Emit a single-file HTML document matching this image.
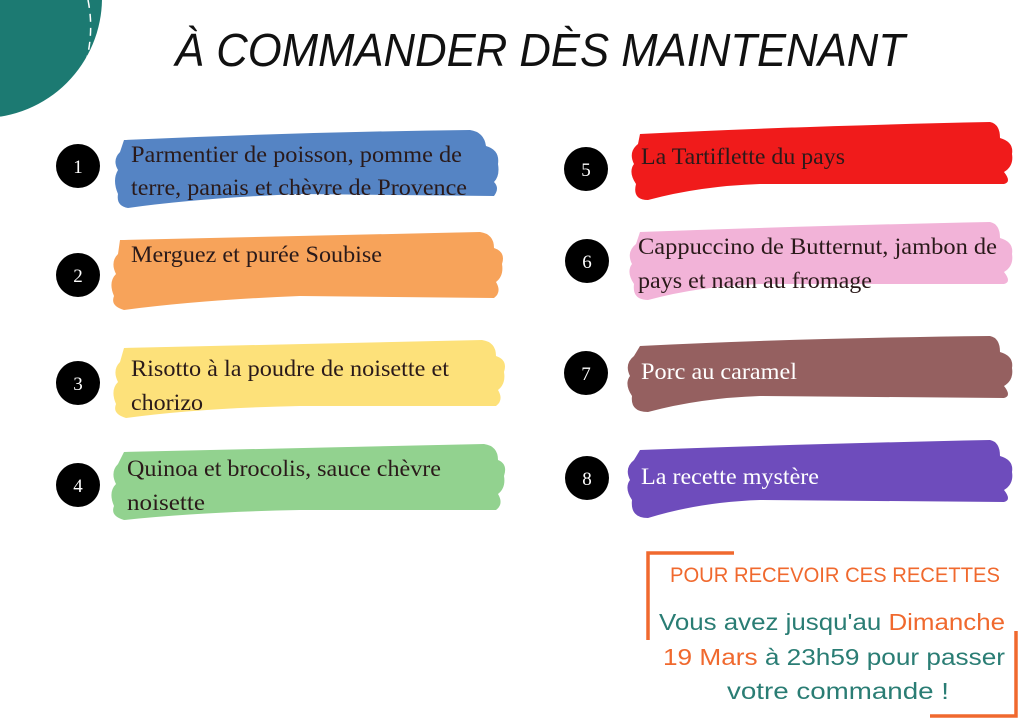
<!DOCTYPE html>
<html><head><meta charset="utf-8"><style>
html,body{margin:0;padding:0;background:#fff;}
svg{display:block}
.t{font-family:"Liberation Serif",serif;font-size:23px;fill:#2a1a1a}
.w{fill:#fff}
.n{font-family:"Liberation Serif",serif;font-size:19px;fill:#fff;text-anchor:middle}
.s{font-family:"Liberation Sans",sans-serif;}
</style></head><body>
<svg width="1024" height="724" viewBox="0 0 1024 724" xmlns="http://www.w3.org/2000/svg">
<rect width="1024" height="724" fill="#fff"/>
<circle cx="-18" cy="-2" r="120" fill="#1c7a72"/>
<path d="M88 0 Q 96 40 80 80" stroke="#fff" stroke-width="1.5" fill="none" stroke-dasharray="8 6"/>
<text x="540" y="66" text-anchor="middle" class="s" font-style="italic" font-size="46" textLength="730" lengthAdjust="spacingAndGlyphs" fill="#111">À COMMANDER DÈS MAINTENANT</text>

<g fill="#5584c4"><path d="M124 140 Q300 132 470 130 Q484 132 486 146 Q500 150 498 164 Q500 176 494 182 Q500 188 494 196 L300 194 Q200 198 128 208 Q116 206 118 194 Q112 180 118 170 Q112 160 120 152 Z"/></g>
<g fill="#f7a35a"><path d="M120 240 Q300 236 480 232 Q494 234 494 248 Q506 252 502 264 Q504 276 496 282 Q502 292 494 298 L300 296 Q200 300 124 310 Q110 306 114 296 Q108 282 116 274 Q110 262 118 254 Z"/></g>
<g fill="#fde17a"><path d="M124 348 Q300 344 482 340 Q496 342 496 356 Q508 360 504 372 Q506 384 498 390 Q504 400 496 406 L300 406 Q200 408 126 418 Q112 414 116 404 Q110 390 118 382 Q112 370 120 362 Z"/></g>
<g fill="#92d28f"><path d="M124 452 Q300 448 484 444 Q498 446 498 460 Q508 464 504 476 Q506 488 498 494 Q504 504 496 510 L300 510 Q200 512 124 520 Q110 516 114 506 Q108 492 116 484 Q110 472 118 464 Z"/></g>
<g fill="#f01b1b"><path d="M640 134 Q800 126 990 122 Q1000 124 1000 138 Q1014 142 1012 154 Q1014 166 1004 172 Q1012 182 1004 184 L760 184 Q700 186 648 200 Q632 200 636 184 Q628 172 634 164 Q628 152 638 144 Z"/></g>
<g fill="#f2b3d8"><path d="M640 232 Q800 226 990 222 Q1000 224 1000 238 Q1014 242 1012 254 Q1014 266 1004 272 Q1012 282 1004 284 L760 284 Q700 286 648 300 Q632 300 634 284 Q626 272 632 264 Q626 252 636 244 Z"/></g>
<g fill="#956060"><path d="M640 346 Q800 338 990 336 Q1000 338 1000 352 Q1014 356 1012 368 Q1014 380 1004 386 Q1012 396 1004 398 L760 396 Q700 398 648 412 Q630 412 632 396 Q624 384 630 376 Q624 364 634 356 Z"/></g>
<g fill="#6e4cbc"><path d="M640 450 Q800 444 990 440 Q1000 442 1000 456 Q1014 460 1012 472 Q1014 484 1004 490 Q1012 500 1004 502 L760 500 Q700 502 648 518 Q630 518 632 500 Q624 488 630 480 Q624 468 634 460 Z"/></g>

<g fill="#000">
<circle cx="78" cy="166" r="22"/><circle cx="78" cy="275" r="22"/><circle cx="78" cy="383" r="22"/><circle cx="78" cy="485" r="22"/>
<circle cx="586" cy="169" r="22"/><circle cx="587" cy="261" r="22"/><circle cx="586" cy="373" r="22"/><circle cx="587" cy="478" r="22"/>
</g>
<text class="n" x="78" y="173">1</text><text class="n" x="78" y="282">2</text><text class="n" x="78" y="390">3</text><text class="n" x="78" y="492">4</text>
<text class="n" x="586" y="176">5</text><text class="n" x="587" y="268">6</text><text class="n" x="586" y="380">7</text><text class="n" x="587" y="485">8</text>

<text class="t" x="131" y="162" textLength="331" lengthAdjust="spacingAndGlyphs">Parmentier de poisson, pomme de</text>
<text class="t" x="131" y="195" textLength="336" lengthAdjust="spacingAndGlyphs">terre, panais et chèvre de Provence</text>
<text class="t" x="131" y="262" textLength="251" lengthAdjust="spacingAndGlyphs">Merguez et purée Soubise</text>
<text class="t" x="131" y="376" textLength="318" lengthAdjust="spacingAndGlyphs">Risotto à la poudre de noisette et</text>
<text class="t" x="131" y="410" textLength="72" lengthAdjust="spacingAndGlyphs">chorizo</text>
<text class="t" x="127" y="476" textLength="314" lengthAdjust="spacingAndGlyphs">Quinoa et brocolis, sauce chèvre</text>
<text class="t" x="127" y="510" textLength="78" lengthAdjust="spacingAndGlyphs">noisette</text>
<text class="t" x="641" y="164" textLength="204" lengthAdjust="spacingAndGlyphs">La Tartiflette du pays</text>
<text class="t" x="638" y="254" textLength="359" lengthAdjust="spacingAndGlyphs">Cappuccino de Butternut, jambon de</text>
<text class="t" x="638" y="288" textLength="234" lengthAdjust="spacingAndGlyphs">pays et naan au fromage</text>
<text class="t w" x="641" y="379" textLength="156" lengthAdjust="spacingAndGlyphs">Porc au caramel</text>
<text class="t w" x="641" y="484" textLength="178" lengthAdjust="spacingAndGlyphs">La recette mystère</text>

<path d="M648 640 V553 H734" stroke="#f0692e" stroke-width="3.5" fill="none"/>
<path d="M1016 631 V716 H930" stroke="#f0692e" stroke-width="3.5" fill="none"/>
<text class="s" x="835" y="582" text-anchor="middle" font-size="21" fill="#f0692e" textLength="330" lengthAdjust="spacingAndGlyphs">POUR RECEVOIR CES RECETTES</text>
<text class="s" x="832" y="630" text-anchor="middle" font-size="23" fill="#2a7d74" textLength="346" lengthAdjust="spacingAndGlyphs">Vous avez jusqu'au <tspan fill="#f0692e">Dimanche</tspan></text>
<text class="s" x="834" y="665" text-anchor="middle" font-size="23" fill="#2a7d74" textLength="342" lengthAdjust="spacingAndGlyphs"><tspan fill="#f0692e">19 Mars</tspan> à 23h59 pour passer</text>
<text class="s" x="838" y="699" text-anchor="middle" font-size="23" fill="#2a7d74" textLength="222" lengthAdjust="spacingAndGlyphs">votre commande !</text>
</svg>
</body></html>
